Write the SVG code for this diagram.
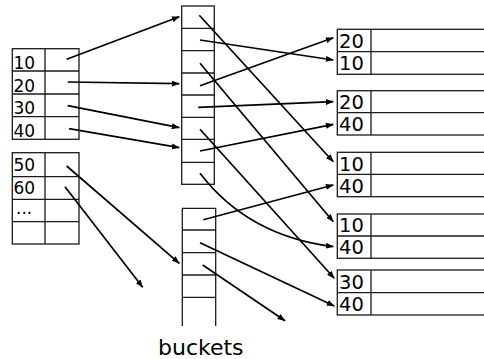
<svg xmlns="http://www.w3.org/2000/svg" width="484" height="359" viewBox="0 0 484 359">
  <style>
    .grid { fill: none; stroke: #1a1a1a; stroke-width: 1.3; }
    .lbl { font-family: "DejaVu Sans", Verdana, sans-serif; font-size: 17px; fill: #000; }
    .rlbl { font-family: "DejaVu Sans", Verdana, sans-serif; font-size: 19.5px; fill: #000; }
    .cap { font-family: "DejaVu Sans", Verdana, sans-serif; font-size: 22px; fill: #000; }
    .edge { fill: none; stroke: #000; stroke-width: 1.7; marker-end: url(#arrow); }
  </style>
  <defs>
    <marker id="arrow" markerWidth="8" markerHeight="6" refX="7.5" refY="3" orient="auto" markerUnits="userSpaceOnUse">
      <path d="M0,0 L8,3 L0,6 Z" fill="#000"/>
    </marker>
  </defs>

  <rect width="484" height="359" fill="#fff"/>

  <!-- key table, first block -->
  <g id="keys-a">
    <rect class="grid" x="12.3" y="48.7" width="66.7" height="90.6"/>
    <line class="grid" x1="45" y1="48.7" x2="45" y2="139.3"/>
    <line class="grid" x1="12.3" y1="71" x2="79" y2="71"/>
    <line class="grid" x1="12.3" y1="94" x2="79" y2="94"/>
    <line class="grid" x1="12.3" y1="116.7" x2="79" y2="116.7"/>
    <text class="lbl" x="13.5" y="68.5">10</text>
    <text class="lbl" x="13.5" y="91.5">20</text>
    <text class="lbl" x="13.5" y="114">30</text>
    <text class="lbl" x="13.5" y="137">40</text>
  </g>

  <!-- key table, second block -->
  <g id="keys-b">
    <rect class="grid" x="12.3" y="152.7" width="66.7" height="91.3"/>
    <line class="grid" x1="45" y1="152.7" x2="45" y2="244"/>
    <line class="grid" x1="12.3" y1="176.7" x2="79" y2="176.7"/>
    <line class="grid" x1="12.3" y1="199.3" x2="79" y2="199.3"/>
    <line class="grid" x1="12.3" y1="221.7" x2="79" y2="221.7"/>
    <text class="lbl" x="13.5" y="171">50</text>
    <text class="lbl" x="13.5" y="194">60</text>
    <text class="lbl" x="16" y="214">...</text>
  </g>

  <!-- bucket array, upper -->
  <g id="buckets-a">
    <rect class="grid" x="181.7" y="6" width="32.6" height="178.3"/>
    <line class="grid" x1="181.7" y1="28.3" x2="214.3" y2="28.3"/>
    <line class="grid" x1="181.7" y1="50.7" x2="214.3" y2="50.7"/>
    <line class="grid" x1="181.7" y1="73" x2="214.3" y2="73"/>
    <line class="grid" x1="181.7" y1="95" x2="214.3" y2="95"/>
    <line class="grid" x1="181.7" y1="117.3" x2="214.3" y2="117.3"/>
    <line class="grid" x1="181.7" y1="139.3" x2="214.3" y2="139.3"/>
    <line class="grid" x1="181.7" y1="162.3" x2="214.3" y2="162.3"/>
  </g>

  <!-- bucket array, lower (open at the bottom) -->
  <g id="buckets-b">
    <path class="grid" d="M182.3,326 V208.3 H215.7 V326"/>
    <line class="grid" x1="182.3" y1="230" x2="215.7" y2="230"/>
    <line class="grid" x1="182.3" y1="252.7" x2="215.7" y2="252.7"/>
    <line class="grid" x1="182.3" y1="275" x2="215.7" y2="275"/>
    <line class="grid" x1="182.3" y1="297.3" x2="215.7" y2="297.3"/>
  </g>

  <!-- record pairs -->
  <g id="rec-1">
    <rect class="grid" x="337.3" y="29.3" width="160" height="45"/>
    <line class="grid" x1="371" y1="29.3" x2="371" y2="74.3"/>
    <line class="grid" x1="337.3" y1="51.7" x2="497.3" y2="51.7"/>
    <text class="rlbl" x="339" y="47.5">20</text>
    <text class="rlbl" x="339" y="70">10</text>
  </g>
  <g id="rec-2">
    <rect class="grid" x="337.3" y="90.7" width="160" height="44.3"/>
    <line class="grid" x1="371" y1="90.7" x2="371" y2="135"/>
    <line class="grid" x1="337.3" y1="112.7" x2="497.3" y2="112.7"/>
    <text class="rlbl" x="339" y="109">20</text>
    <text class="rlbl" x="339" y="131">40</text>
  </g>
  <g id="rec-3">
    <rect class="grid" x="337.3" y="152.3" width="160" height="44.4"/>
    <line class="grid" x1="371" y1="152.3" x2="371" y2="196.7"/>
    <line class="grid" x1="337.3" y1="174.3" x2="497.3" y2="174.3"/>
    <text class="rlbl" x="339" y="170.5">10</text>
    <text class="rlbl" x="339" y="192.5">40</text>
  </g>
  <g id="rec-4">
    <rect class="grid" x="337.3" y="214" width="160" height="44.3"/>
    <line class="grid" x1="371" y1="214" x2="371" y2="258.3"/>
    <line class="grid" x1="337.3" y1="236" x2="497.3" y2="236"/>
    <text class="rlbl" x="339" y="232">10</text>
    <text class="rlbl" x="339" y="254">40</text>
  </g>
  <g id="rec-5">
    <rect class="grid" x="337.3" y="270" width="160" height="45"/>
    <line class="grid" x1="371" y1="270" x2="371" y2="315"/>
    <line class="grid" x1="337.3" y1="292.7" x2="497.3" y2="292.7"/>
    <text class="rlbl" x="339" y="288.5">30</text>
    <text class="rlbl" x="339" y="311">40</text>
  </g>

  <!-- pointers -->
  <g id="connectors">
    <!-- keys to buckets -->
    <line class="edge" x1="66.7" y1="59.3" x2="179.3" y2="16.7"/>
    <line class="edge" x1="67.7" y1="82" x2="179.3" y2="83.7"/>
    <line class="edge" x1="67.7" y1="105.7" x2="179.3" y2="127.7"/>
    <line class="edge" x1="69" y1="128.7" x2="179.3" y2="147.7"/>
    <line class="edge" x1="66.7" y1="166" x2="179.3" y2="263.3"/>
    <line class="edge" x1="65" y1="186.7" x2="142.7" y2="287.3"/>
    <!-- buckets to records -->
    <line class="edge" x1="199.3" y1="15.3" x2="333.3" y2="161.7"/>
    <line class="edge" x1="200" y1="40" x2="333.3" y2="60"/>
    <line class="edge" x1="200" y1="63.3" x2="333.3" y2="221.7"/>
    <line class="edge" x1="200" y1="85.7" x2="333.3" y2="37.7"/>
    <line class="edge" x1="198.3" y1="107.3" x2="333.3" y2="101.7"/>
    <line class="edge" x1="200" y1="129.3" x2="334.3" y2="278.3"/>
    <line class="edge" x1="200" y1="151" x2="333.3" y2="124.3"/>
    <path class="edge" d="M200,173.3 Q248,236 333.3,246.7"/>
    <line class="edge" x1="203.3" y1="219.7" x2="333.3" y2="185"/>
    <line class="edge" x1="200" y1="242.7" x2="334.3" y2="306"/>
    <line class="edge" x1="202.7" y1="265" x2="285" y2="320.7"/>
  </g>

  <text id="caption" class="cap" x="158" y="355">buckets</text>
</svg>
